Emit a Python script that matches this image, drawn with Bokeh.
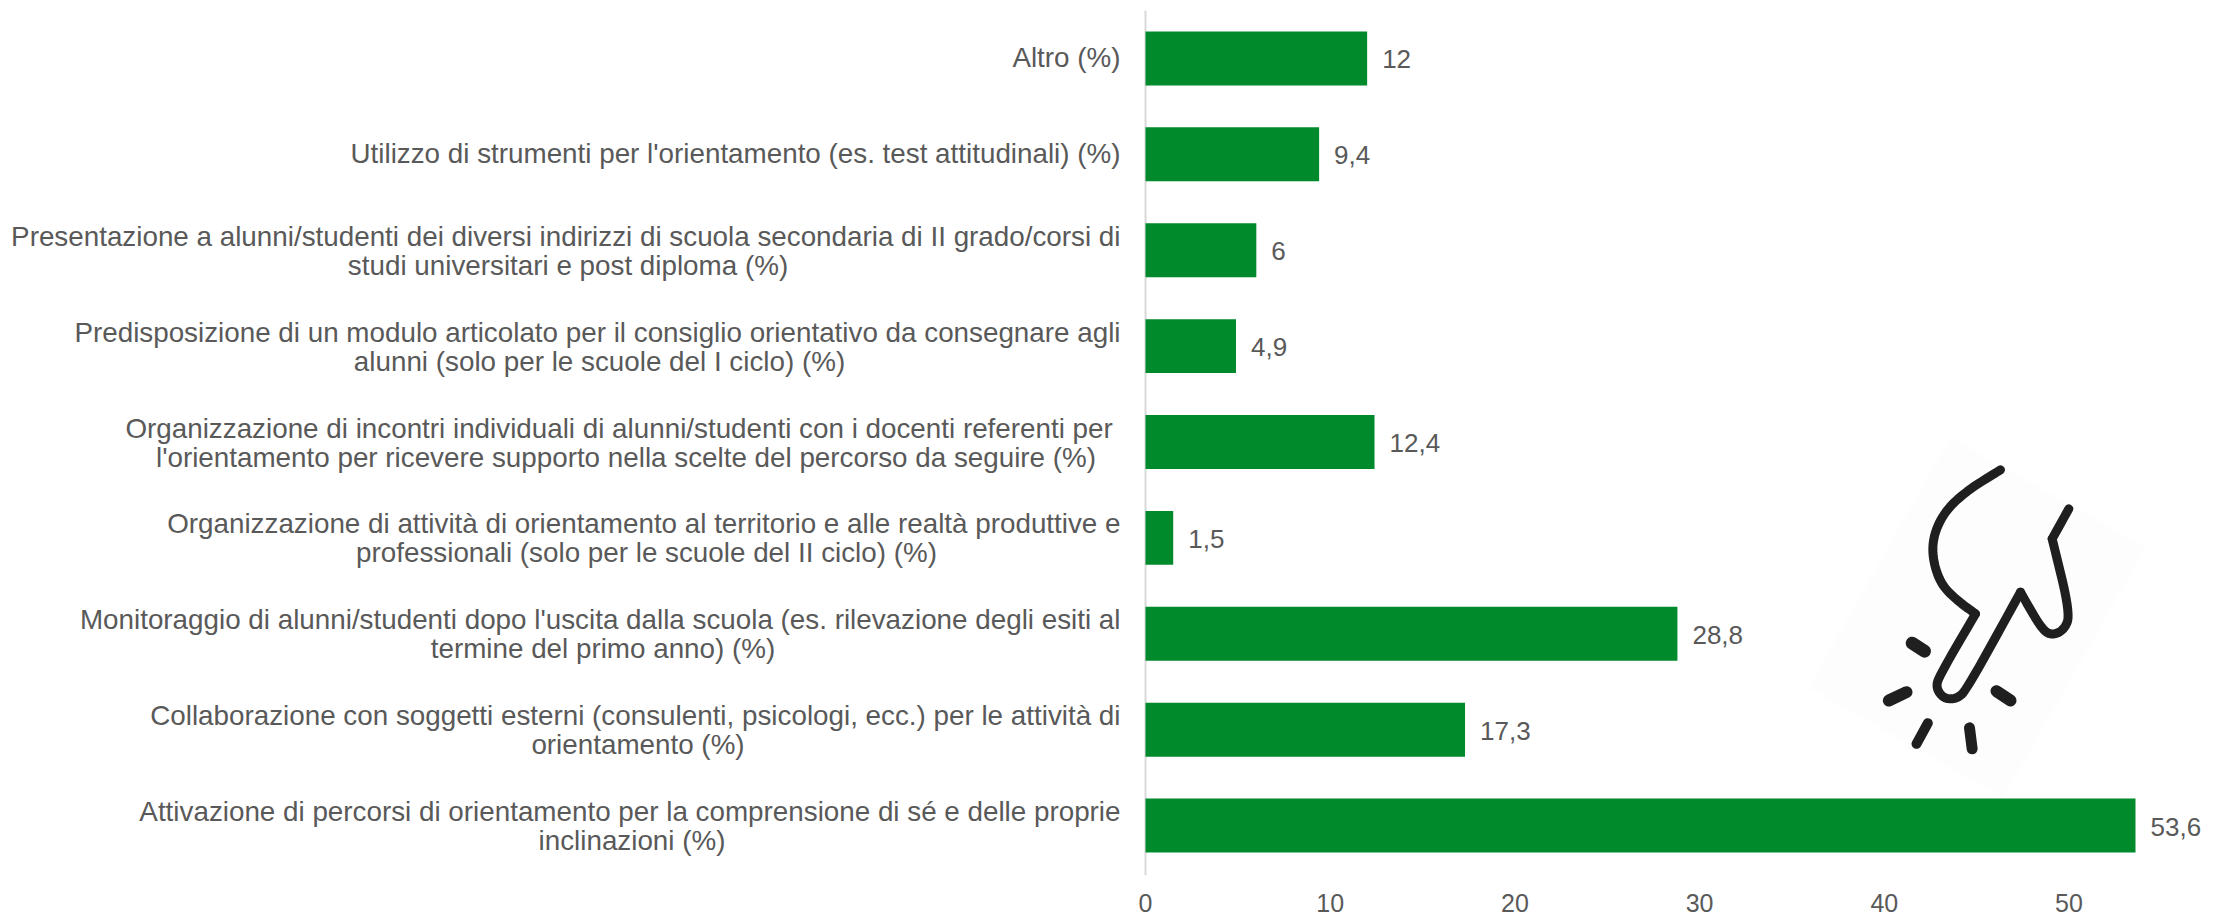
from bokeh.plotting import figure
from bokeh.models import ColumnDataSource, FactorRange, Range1d, FixedTicker
from bokeh.core.properties import value
from bokeh.embed import file_html
from bokeh.resources import INLINE

first_lines = [
    "Altro (%)",
    "Utilizzo di strumenti per l'orientamento (es. test attitudinali) (%)",
    "Presentazione a alunni/studenti dei diversi indirizzi di scuola secondaria di II grado/corsi di",
    "Predisposizione di un modulo articolato per il consiglio orientativo da consegnare agli",
    "Organizzazione di incontri individuali  di alunni/studenti con i docenti referenti per",
    "Organizzazione di attività di orientamento al territorio e alle realtà produttive e",
    "Monitoraggio di alunni/studenti dopo l'uscita dalla scuola (es. rilevazione degli esiti al",
    "Collaborazione con soggetti esterni (consulenti, psicologi, ecc.) per le attività di",
    "Attivazione di percorsi di orientamento per la comprensione di sé e delle proprie",
]
second_lines = [
    "",
    "",
    "studi universitari e post diploma (%)",
    "alunni (solo per le scuole del I ciclo) (%)",
    "l'orientamento per ricevere supporto nella scelte del percorso da seguire (%)",
    "professionali (solo per le scuole del II ciclo) (%)",
    "termine del primo anno) (%)",
    "orientamento (%)",
    "inclinazioni (%)",
]
values = [12, 9.4, 6, 4.9, 12.4, 1.5, 28.8, 17.3, 53.6]
value_labels = ["12", "9,4", "6", "4,9", "12,4", "1,5", "28,8", "17,3", "53,6"]
x_ticks = [0, 10, 20, 30, 40, 50]

# layout (page pixels)
W, H = 2232, 916
AXIS_X, FRAME_T, FRAME_B = 1145, 8, 875
PX_PER_UNIT = 18.47
PAD = 2
BAND = (FRAME_B - FRAME_T - 2 * PAD) / 9
TEXT = "#595959"
FONT = "Liberation Sans"
FS_CAT = "27.8px"
FS_VAL = "26px"
FS_TICK = "25px"
GAP = 25
first_widths = [0, 0, 1105, 1042, 989, 948, 1035, 965, 977]

categories = [(a + " " + b).strip() for a, b in zip(first_lines, second_lines)]

p = figure(
    width=W, height=H, output_backend="svg", toolbar_location=None,
    y_range=FactorRange(factors=categories[::-1], range_padding=2 * PAD / BAND / 9),
    x_range=Range1d(-AXIS_X / PX_PER_UNIT, (W - AXIS_X) / PX_PER_UNIT),
    min_border_left=0, min_border_right=0, min_border_top=FRAME_T,
    min_border_bottom=H - FRAME_B,
    outline_line_color=None,
)
p.extra_x_ranges["px"] = Range1d(0, W)
p.xgrid.visible = False
p.ygrid.visible = False
p.yaxis.visible = False
ax = p.xaxis[0]
ax.ticker = FixedTicker(ticks=x_ticks)
ax.axis_line_color = None
ax.major_tick_line_color = None
ax.minor_tick_line_color = None
ax.major_label_text_color = TEXT
ax.major_label_text_font = FONT
ax.major_label_text_font_size = FS_TICK
ax.major_label_standoff = 12


def py(y):
    # page pixel row to the categorical axis' synthetic coordinate
    return (FRAME_B - PAD - y) / BAND


def zoom_path(pts, ox=1700, oy=400):
    return [ox + x / 3 for x, _ in pts], [py(oy + y / 3) for _, y in pts]


def chaikin(pts, n=3):
    for _ in range(n):
        out = [pts[0]]
        for a, b in zip(pts[:-1], pts[1:]):
            out.append((0.75 * a[0] + 0.25 * b[0], 0.75 * a[1] + 0.25 * b[1]))
            out.append((0.25 * a[0] + 0.75 * b[0], 0.25 * a[1] + 0.75 * b[1]))
        out.append(pts[-1])
        pts = out
    return pts


# icon backdrop
p.patch([1950, 2145, 2003, 1808], [py(437), py(547), py(797), py(687)], x_range_name="px",
        fill_color="#fdfdfd", line_color=None)

# axis line
p.line([AXIS_X, AXIS_X], [py(10), py(FRAME_B)], x_range_name="px",
       line_color="#d9d9d9", line_width=2)

src = ColumnDataSource(dict(cat=categories, val=values, lab=value_labels))
p.hbar(y="cat", right="val", left=0, height=0.5625, source=src, fill_color="#008a2c", line_color=None)
p.text(x="val", y="cat", text="lab", source=src, x_offset=15, y_offset=1,
       text_font=value(FONT), text_font_size=value(FS_VAL), text_color=TEXT,
       text_align="left", text_baseline="middle")

# category labels
single = [i for i, s in enumerate(second_lines) if not s]
double = [i for i, s in enumerate(second_lines) if s]
s_single = ColumnDataSource(dict(x=[0] * len(single), y=[categories[i] for i in single],
                                 t=[first_lines[i] for i in single]))
s_first = ColumnDataSource(dict(x=[0] * len(double), y=[categories[i] for i in double],
                                t=[first_lines[i] for i in double]))
s_second = ColumnDataSource(dict(x=[0] * len(double), y=[categories[i] for i in double],
                                 t=[second_lines[i] for i in double],
                                 off=[-GAP - first_widths[i] / 2 for i in double]))
common = dict(x="x", y="y", text="t", text_font=value(FONT), text_font_size=value(FS_CAT),
              text_color=TEXT, text_baseline="middle")
p.text(source=s_single, x_offset=-GAP, y_offset=-1, text_align="right", **common)
p.text(source=s_first, x_offset=-GAP, y_offset=-14, text_align="right", **common)
p.text(source=s_second, x_offset="off", y_offset=15, text_align="center", **common)

# icon
segs = [
    [(900, 208), (800, 270), (735, 330), (700, 400), (695, 470), (720, 550), (770, 600), (825, 640)],
    [(825, 640), (720, 820), (705, 860), (730, 895), (770, 895), (800, 865), (960, 575)],
    [(960, 575), (1020, 680), (1050, 705), (1090, 690), (1110, 640), (1055, 415)],
    [(1055, 415), (1105, 325)],
]
INK = "#1f1f1f"
for s in segs:
    xs, ys = zoom_path(chaikin(s))
    p.line(xs, ys, x_range_name="px", line_color=INK, line_width=9,
           line_cap="round", line_join="round")
rays = [
    ([(395, 128), (432, 152)], 13),
    ([(325, 300), (378, 275)], 12),
    ([(648, 272), (690, 300)], 12),
    ([(442, 368), (408, 430)], 10),
    ([(567, 382), (575, 445)], 11),
]
for r, w in rays:
    xs, ys = zoom_path(r, 1780, 600)
    p.line(xs, ys, x_range_name="px", line_color=INK, line_width=w, line_cap="round")

open("out.html", "w").write(file_html(p, INLINE))
